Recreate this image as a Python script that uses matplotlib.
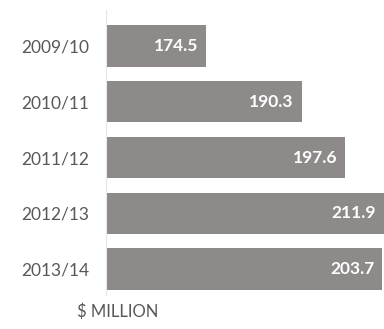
import matplotlib
matplotlib.use("Agg")
from matplotlib import pyplot as plt

years = ["2009/10", "2010/11", "2011/12", "2012/13", "2013/14"]
spend = [174.5, 190.3, 197.6, 211.9, 203.7]

bar_color = "#8f8a8a"
text_color = "#585858"

plt.rcParams['font.family'] = ['Lato', 'DejaVu Sans']

fig = plt.figure(figsize=(3.84, 3.29), dpi=100)
ax = fig.add_axes([0.276, 0.1033, 0.724, 0.866])

pos = list(range(len(years)))
xmin = 157.8
xmax = 204.0
ax.barh(pos, [v - xmin for v in spend], left=xmin, height=0.74, color=bar_color)

# value labels sit inside the right end of each bar
for p, v in zip(pos, spend):
    x = min(v, xmax) - 1.3
    ax.text(x, p, "%.1f" % v, ha="right", va="center", color="white",
            fontsize=12.5, fontweight="bold")

ax.set_xlim(xmin, xmax)
ax.set_ylim(4.466, -0.646)
ax.set_yticks(pos)
ax.set_yticklabels(years, fontsize=12.5, color=text_color)
ax.tick_params(axis="y", length=0, pad=12)
ax.set_xticks([])

for side in ["top", "right", "bottom"]:
    ax.spines[side].set_visible(False)
ax.spines["left"].set_color("#e6e6e6")
ax.spines["left"].set_linewidth(0.8)

fig.text(0.307, 0.052, "$ MILLION", ha="center", va="center",
         fontsize=12, color=text_color)

fig.savefig("out.png", dpi=100)
